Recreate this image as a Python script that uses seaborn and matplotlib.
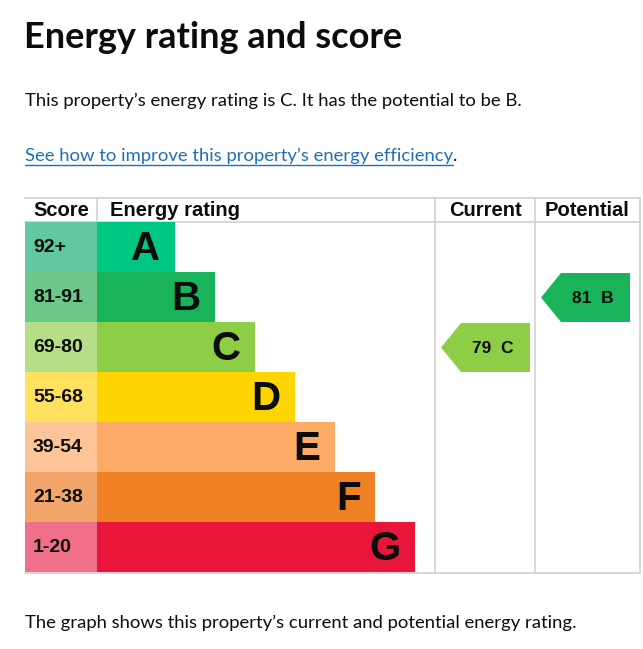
import matplotlib
matplotlib.use("Agg")
import matplotlib.pyplot as plt
from matplotlib.patches import Polygon
import pandas as pd
import seaborn as sns

# --- data ---
bands = ["A", "B", "C", "D", "E", "F", "G"]
score_ranges = ["92+", "81-91", "69-80", "55-68", "39-54", "21-38", "1-20"]
bar_lengths = [2, 3, 4, 5, 6, 7, 8]
bar_colors = ["#00c781", "#19b459", "#8dce46", "#ffd500", "#fcaa65", "#ef8023", "#e9153b"]
score_colors = ["#62c8a1", "#6cc78b", "#b6de88", "#ffe160", "#fdc498", "#f2a56b", "#f0708a"]
current_score, current_band = 79, "C"
potential_score, potential_band = 81, "B"

W, H = 643, 649
table_left, table_right = 25, 640
score_right = 97
current_left, potential_left = 435, 535
head_top, head_bottom = 198, 222
row_h = 50
table_bottom = head_bottom + row_h * len(bands)
grid_col = "#cfd1d2"

sns.set_theme(style="white")
plt.rcParams["font.family"] = ["Liberation Sans", "DejaVu Sans"]

df = pd.DataFrame({"band": bands, "score": score_ranges, "length": bar_lengths})

fig = plt.figure(figsize=(W / 100, H / 100), dpi=100)
fig.patch.set_facecolor("white")

# main canvas in pixel coords
ax = fig.add_axes([0, 0, 1, 1])
ax.set_xlim(0, W)
ax.set_ylim(H, 0)
ax.axis("off")


def fig_box(x0, x1, y0, y1):
    return [x0 / W, 1 - y1 / H, (x1 - x0) / W, (y1 - y0) / H]


# score column
ax_s = fig.add_axes(fig_box(table_left, score_right, head_bottom, table_bottom))
sns.barplot(data=df.assign(full=1), x="full", y="band", hue="band",
            palette=dict(zip(bands, score_colors)), width=1.0, orient="h",
            saturation=1, legend=False, ax=ax_s, linewidth=0)
ax_s.set_xlim(0, 1)
ax_s.set_ylim(len(bands) - 0.5, -0.5)
ax_s.axis("off")
for i, s in enumerate(score_ranges):
    ax_s.text(0.11, i, s, ha="left", va="center", fontsize=14, fontweight="bold", color="#0b0c0c")

# rating bars (one unit = 40 px)
ax_b = fig.add_axes(fig_box(score_right, current_left, head_bottom, table_bottom))
sns.barplot(data=df, x="length", y="band", hue="band",
            palette=dict(zip(bands, bar_colors)), width=1.0, orient="h",
            saturation=1, legend=False, ax=ax_b, linewidth=0)
x0 = 0.05
ax_b.set_xlim(x0, x0 + (current_left - score_right) / 40)
ax_b.set_ylim(len(bands) - 0.5, -0.5)
ax_b.axis("off")
for i, (b, L) in enumerate(zip(bands, bar_lengths)):
    ax_b.text(L - 0.36, i + 0.03, b, ha="right", va="center", fontsize=29,
              fontweight="bold", color="#0b0c0c")

# grid lines
ax.plot([table_left, table_right], [head_top, head_top], color=grid_col, lw=1.2)
ax.plot([table_left, table_right], [head_bottom, head_bottom], color=grid_col, lw=1.2)
ax.plot([table_left, table_right], [table_bottom + 1, table_bottom + 1], color=grid_col, lw=1.2)
ax.plot([score_right, score_right], [head_top, head_bottom], color=grid_col, lw=1.2)
for xv in [current_left, potential_left, table_right]:
    ax.plot([xv, xv], [head_top, table_bottom + 1], color=grid_col, lw=1.2)

# header labels
hy = (head_top + head_bottom) / 2 + 1
hkw = dict(va="center", fontsize=14.5, fontweight="bold", color="#0b0c0c")
ax.text(33, hy, "Score", ha="left", **hkw)
ax.text(110, hy, "Energy rating", ha="left", **hkw)
ax.text((current_left + potential_left) / 2, hy, "Current", ha="center", **hkw)
ax.text((potential_left + table_right) / 2 - 1, hy, "Potential", ha="center", **hkw)


def arrow(col_left, score, band):
    i = bands.index(band)
    top = head_bottom + row_h * i + 1
    bot = top + row_h - 1
    tip = col_left + 6
    right = tip + 89
    pts = [(tip, (top + bot) / 2), (tip + 20, top), (right, top), (right, bot), (tip + 20, bot)]
    ax.add_patch(Polygon(pts, closed=True, facecolor=bar_colors[i], edgecolor="none"))
    ax.text(tip + 52, (top + bot) / 2 + 1, f"{score}  {band}", ha="center", va="center",
            fontsize=12.5, fontweight="bold", color="#0b0c0c")


arrow(current_left, current_score, current_band)
arrow(potential_left, potential_score, potential_band)

# page text
tf = ["Lato", "DejaVu Sans"]
body = 13.3
ax.text(24, 38, "Energy rating and score", ha="left", va="center", fontsize=26,
        fontweight="bold", color="#0b0c0c", family=tf)
ax.text(25, 101, "This property\u2019s energy rating is C. It has the potential to be B.",
        ha="left", va="center", fontsize=body, color="#0b0c0c", family=tf)
link = ax.text(25, 156, "See how to improve this property\u2019s energy efficiency",
               ha="left", va="center", fontsize=body, color="#1d70b8", family=tf)
ax.text(25, 623, "The graph shows this property\u2019s current and potential energy rating.",
        ha="left", va="center", fontsize=body, color="#0b0c0c", family=tf)

fig.canvas.draw()
bb = link.get_window_extent().transformed(ax.transData.inverted())
x_end = max(bb.x0, bb.x1)
ax.plot([25, x_end], [165, 165], color="#1d70b8", lw=1)
ax.text(x_end, 156, ".", ha="left", va="center", fontsize=body, color="#0b0c0c", family=tf)

fig.savefig("out.png", dpi=100, facecolor="white")
